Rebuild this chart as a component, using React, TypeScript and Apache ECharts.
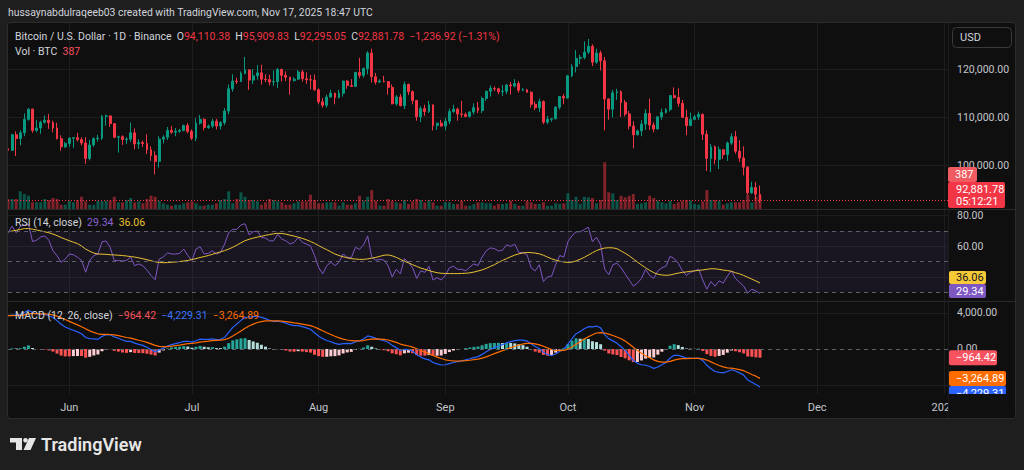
import React, { useEffect, useRef } from "react";
import * as echarts from "echarts";

// ---------------- data (prices in thousands of USD) ----------------
const AXIS_DAYS = 231; // 2025-05-17 .. 2026-01-02

const opensK = [
  103.5,103.2,106.4,105.6,106.8,109.6,111.7,107.3,107.8,109.0,
  109.4,108.9,107.8,105.6,103.9,104.6,105.7,105.8,105.4,104.7,
  101.5,104.3,105.6,105.7,110.2,110.3,108.7,105.9,106.0,105.4,
  105.5,106.8,104.5,104.8,104.6,103.3,102.1,100.9,105.5,105.9,
  107.3,106.9,107.1,107.3,108.3,107.1,105.7,108.8,109.6,107.9,
  108.2,109.2,108.2,108.9,111.3,115.9,117.5,117.4,119.1,119.8,
  117.7,118.6,119.2,117.9,117.8,117.3,117.4,119.9,118.7,118.3,
  117.6,117.9,119.4,118.0,117.8,117.7,115.7,113.2,112.5,114.2,
  115.0,114.1,115.0,117.5,116.6,116.4,119.3,118.7,120.1,123.3,
  118.4,117.3,117.5,117.4,116.2,112.8,114.2,112.4,116.8,115.3,
  113.5,110.1,111.8,111.2,112.6,108.3,108.8,108.2,109.2,111.2,
  111.7,110.7,110.6,110.2,111.1,112.0,111.4,113.9,115.4,116.0,
  115.9,115.3,115.4,116.7,116.5,117.0,115.6,115.7,115.2,112.7,
  112.0,113.3,109.0,109.6,109.7,112.1,114.3,114.0,118.6,120.5,
  122.2,122.4,123.5,124.7,121.4,123.3,121.7,113.8,111.7,115.1,
  115.3,113.1,110.7,108.2,106.4,107.2,108.6,110.8,108.4,107.6,
  110.1,111.0,111.6,114.5,114.1,112.9,110.0,108.3,109.6,110.1,
  110.6,106.5,101.5,103.9,101.3,103.3,102.3,104.7,106.0,103.0,
  101.6,99.7,94.4,95.5,94.11038,
];
const highsK = [
  103.7,106.6,107.1,107.3,110.8,111.9,111.8,109.5,109.3,110.4,
  110.7,109.3,108.9,106.3,104.9,105.9,105.9,106.8,105.9,105.9,
  105.3,105.9,106.4,110.5,110.6,110.4,108.8,106.2,106.3,105.9,
  108.9,107.7,105.5,105.2,106.5,104.0,103.0,106.1,106.3,108.0,
  108.2,107.8,107.6,108.5,108.8,107.5,109.8,110.5,109.8,108.5,
  109.7,109.7,109.2,111.9,116.8,118.9,118.2,119.5,122.5,119.9,
  120.0,120.8,120.9,118.9,118.8,119.7,120.2,120.1,119.5,118.4,
  118.3,119.8,119.8,119.3,118.8,118.9,116.0,114.0,114.7,115.7,
  115.1,115.7,117.6,117.7,117.9,119.4,122.3,120.3,123.7,124.2,
  119.2,117.9,118.6,117.5,116.8,114.6,114.8,117.4,117.0,115.6,
  113.6,112.3,112.6,113.4,112.6,108.9,109.5,109.9,111.8,112.6,
  112.0,113.4,111.0,111.3,112.9,113.2,114.3,115.5,116.6,116.4,
  116.1,116.7,116.9,117.3,117.9,117.5,116.1,115.9,115.4,113.3,
  113.9,113.5,110.3,109.8,112.3,114.4,114.8,118.8,121.0,123.9,
  122.9,125.7,126.2,125.1,124.2,123.8,122.5,113.9,115.7,115.9,
  115.6,113.6,111.3,109.2,107.5,109.4,111.7,113.9,109.0,110.3,
  111.8,111.9,114.6,116.2,116.0,113.6,111.6,111.0,110.5,111.2,
  110.8,107.3,104.5,104.2,104.0,103.4,105.0,106.7,107.2,105.3,
  104.0,99.9,96.7,96.6,95.90983,
];
const lowsK = [
  102.6,103.1,102.0,104.2,106.1,109.3,106.8,106.9,106.6,108.7,
  107.6,106.9,105.4,103.1,103.7,103.9,103.7,105.0,104.2,100.4,
  101.1,103.9,105.0,105.3,108.3,108.0,105.7,102.7,104.3,104.5,
  104.9,103.4,103.5,103.9,102.4,101.0,98.2,99.6,104.6,105.3,
  106.6,106.1,106.8,107.1,106.7,105.3,105.1,108.5,107.3,107.6,
  107.8,107.5,107.5,108.4,110.6,115.3,116.9,117.3,118.9,115.7,
  116.9,117.8,116.8,117.3,116.6,116.5,116.1,117.4,117.5,114.7,
  117.4,117.8,117.4,116.9,115.8,115.5,112.7,112.0,112.0,114.1,
  112.7,113.9,114.3,115.9,116.3,116.4,118.1,118.2,118.9,117.2,
  116.8,117.2,117.2,114.7,112.7,112.4,112.3,111.7,114.6,112.7,
  109.3,109.0,110.3,110.9,107.3,107.4,108.1,107.3,108.6,110.9,
  109.3,110.0,110.0,110.0,110.6,110.9,110.9,113.4,114.3,115.4,
  114.8,114.4,114.8,114.7,116.2,115.1,115.4,115.1,112.0,111.5,
  111.1,108.6,108.6,109.1,109.6,111.6,112.7,113.9,118.3,119.3,
  121.0,122.0,123.1,120.6,121.1,119.7,107.3,109.5,110.0,113.6,
  110.1,110.2,107.5,103.6,106.3,106.1,107.4,107.4,106.9,107.5,
  109.5,110.8,111.2,113.9,112.2,109.9,106.3,108.2,109.4,109.5,
  105.3,98.9,98.7,100.3,99.3,101.4,101.0,104.3,102.5,100.8,
  98.0,94.0,94.2,93.0,92.29505,
];
const closesK = [
  103.2,106.4,105.6,106.8,109.6,111.7,107.3,107.8,109.0,109.4,
  108.9,107.8,105.6,103.9,104.6,105.7,105.8,105.4,104.7,101.5,
  104.3,105.6,105.7,110.2,110.3,108.7,105.9,106.0,105.4,105.5,
  106.8,104.5,104.8,104.6,103.3,102.1,100.9,105.5,105.9,107.3,
  106.9,107.1,107.3,108.3,107.1,105.7,108.8,109.6,107.9,108.2,
  109.2,108.2,108.9,111.3,115.9,117.5,117.4,119.1,119.8,117.7,
  118.6,119.2,117.9,117.8,117.3,117.4,119.9,118.7,118.3,117.6,
  117.9,119.4,118.0,117.8,117.7,115.7,113.2,112.5,114.2,115.0,
  114.1,115.0,117.5,116.6,116.4,119.3,118.7,120.1,123.3,118.4,
  117.3,117.5,117.4,116.2,112.8,114.2,112.4,116.8,115.3,113.5,
  110.1,111.8,111.2,112.6,108.3,108.8,108.2,109.2,111.2,111.7,
  110.7,110.6,110.2,111.1,112.0,111.4,113.9,115.4,116.0,115.9,
  115.3,115.4,116.7,116.5,117.0,115.6,115.7,115.2,112.7,112.0,
  113.3,109.0,109.6,109.7,112.1,114.3,114.0,118.6,120.5,122.2,
  122.4,123.5,124.7,121.4,123.3,121.7,113.8,111.7,115.1,115.3,
  113.1,110.7,108.2,106.4,107.2,108.6,110.8,108.4,107.6,110.1,
  111.0,111.6,114.5,114.1,112.9,110.0,108.3,109.6,110.1,110.6,
  106.5,101.5,103.9,101.3,103.3,102.3,104.7,106.0,103.0,101.6,
  99.7,94.4,95.5,94.1187,92.88178,
];
const volumesBTC = [
  276,276,276,489,414,367,185,185,185,276,
  248,304,276,119,119,229,185,248,339,213,
  119,119,229,213,229,229,339,185,185,248,
  304,185,213,157,276,367,339,229,157,119,
  91,119,119,157,185,213,157,91,91,119,
  119,157,248,276,489,157,276,461,339,248,
  248,213,119,185,276,248,213,185,119,119,
  157,213,213,213,395,248,157,157,185,185,
  185,91,185,119,119,157,367,229,339,524,
  229,91,91,276,229,185,157,248,138,213,
  276,248,185,248,185,91,91,185,185,138,
  138,229,91,91,138,185,185,157,157,91,
  138,138,157,229,138,91,91,229,185,138,
  138,185,91,91,157,138,157,433,248,339,
  138,339,323,304,157,248,1289,461,433,248,
  367,323,367,414,138,157,185,367,304,229,
  185,157,229,138,185,229,248,229,138,119,
  213,524,248,248,229,119,157,185,185,185,
  248,395,185,339,387,
];
const rsiValues = [
  68.9,73.2,68.9,73,73.9,74.5,63.1,64,66.1,66.8,
  64,57.1,53.9,49.6,51.7,55,54.5,52.9,50.8,43.1,
  50.8,54,55,63,63.5,59.4,50.8,50.8,50.4,50.8,
  52.9,47.4,48.5,47.4,44.4,41,38.2,51.7,53,55.8,
  55,55,55.4,58.2,54,50.8,58.2,59.7,55,55.4,
  57.1,55,56.1,61.5,68.9,71.1,71.1,74,74.8,67.5,
  69.6,70,65.8,65.4,63.6,63.6,67.9,64.7,63.6,61.5,
  62.6,65.8,62.6,61.5,60.4,54,46.3,42,47.4,49.6,
  47.4,49.6,55,52.9,52.5,59.4,58,61,66.8,52.9,
  51,51.5,51,47.4,40,45,42,52,49.5,46,
  39,44,43,47,38,39.5,38,41,46,47,
  45,45,44,46.5,48.5,47.5,53,57,59,58.5,
  57,57.5,61,60,61.5,56,56,54.5,46,44,
  48,37,40,40.5,48,54,53,63,67,69.5,
  69.5,71,72.5,63,66,61,45,41.5,48,49,
  46,42,38,34,36,39,45,41,39,44,
  46,47,53.5,52,49,44,41,43,44,45,
  38,32,37,34,37.5,36,40.5,44,39,36.5,
  34,29.5,32,30.8,29.34,
];
const rsiMaValues = [
  69.5,70,70.5,71,71.6,71.6,71.2,70.7,70.1,69.5,
  68.9,68,67,65.8,64.7,63.7,62.7,61.8,60.2,58.2,
  56.8,55.6,55,54.9,54.8,54.5,54.4,54.2,54,53.7,
  53.3,53,52.5,51.9,51.3,50.6,49.9,49.5,49.3,49.4,
  49.6,49.8,50.1,50.4,50.8,51.4,52,52.7,53.3,54,
  54.8,55.6,56.4,57.2,58.2,59.4,60.8,62.3,63.7,64.6,
  65.4,66,66.6,67.2,67.7,68.2,68.5,68.4,68,67.3,
  66.7,66,65.2,64.3,63.2,62,60.5,59.1,57.8,56.4,
  55,54,53.2,52.5,52,51.7,51.5,51.5,51.8,52.3,
  52.8,53.5,54.2,54.4,53.8,52.8,51.5,50.3,49.2,48,
  46.9,45.8,45,44.2,43.4,42.8,42.4,42.3,42.2,42.2,
  42.2,42.3,42.4,42.7,43.2,43.9,44.6,45.6,46.8,48,
  49.5,50.8,52,53.2,54.3,55.1,55.7,56,55.9,55.6,
  55.1,54.2,53,51.9,51,50.3,49.8,49.5,49.7,50.5,
  51.6,52.8,54.3,55.8,57.2,58.2,58.9,59.1,59,58.5,
  57,55.5,53.8,51.8,49.8,47.8,46,44.3,42.8,41.8,
  41.3,41.1,41.3,41.9,42.5,43,43.3,43.7,44,44.3,
  44.6,45,45.4,45.3,45,44.5,44.2,43.7,42.8,42,
  41,39.8,38.6,37.4,36.06,
];
const macdValues = [
  3700,3780,3780,3830,4050,4300,4050,3900,3880,3850,
  3700,3500,3150,2750,2450,2250,2080,1900,1700,1280,
  1150,1120,1080,1380,1600,1580,1350,1200,1000,850,
  850,650,520,400,200,-50,-320,-100,100,330,
  480,600,700,850,860,760,920,1100,1080,1060,
  1120,1050,1080,1300,1850,2400,2780,3180,3500,3550,
  3600,3640,3520,3380,3200,3050,3100,3000,2880,2700,
  2600,2600,2480,2350,2200,1800,1450,1150,950,800,
  620,520,600,620,600,800,920,1100,1450,1350,
  1180,1050,920,750,400,150,-150,-50,-80,-250,
  -650,-900,-1100,-1200,-1500,-1650,-1780,-1750,-1620,-1500,
  -1400,-1320,-1200,-1080,-950,-850,-600,-300,-50,150,
  330,480,680,820,930,990,990,880,580,270,
  50,-350,-620,-720,-560,-250,-50,550,1150,1700,
  1950,2250,2480,2450,2550,2350,1600,1150,900,650,
  250,-150,-700,-1250,-1600,-1750,-1800,-1950,-2150,-2000,
  -1750,-1500,-1000,-700,-700,-850,-1000,-1020,-1030,-1000,
  -1300,-1800,-2200,-2500,-2600,-2650,-2500,-2300,-2450,-2650,
  -2900,-3450,-3700,-3950,-4229.31,
];
const signalValues = [
  3700,3710,3720,3740,3800,3900,3930,3920,3910,3900,
  3860,3790,3660,3480,3270,3070,2870,2680,2480,2240,
  2020,1840,1690,1630,1620,1610,1560,1490,1390,1280,
  1200,1090,970,860,730,570,400,300,260,270,
  310,370,440,520,590,620,680,760,830,870,
  920,950,980,1040,1200,1440,1710,2000,2300,2550,
  2760,2940,3050,3120,3140,3120,3120,3090,3050,2980,
  2900,2840,2770,2690,2600,2440,2240,2020,1810,1610,
  1410,1230,1100,1000,920,900,900,940,1040,1100,
  1120,1100,1060,1000,880,730,550,430,330,210,
  30,-160,-350,-520,-720,-900,-1060,-1200,-1280,-1330,
  -1340,-1330,-1300,-1250,-1190,-1120,-1010,-870,-700,-520,
  -350,-180,-10,160,310,450,560,630,630,560,
  460,300,120,-50,-160,-180,-150,-10,220,520,
  810,1100,1370,1590,1780,1820,1780,1650,1500,1330,
  1140,880,560,200,-160,-480,-740,-980,-1210,-1370,
  -1450,-1460,-1370,-1240,-1130,-1080,-1060,-1050,-1050,-1040,
  -1090,-1230,-1430,-1640,-1830,-1990,-2090,-2130,-2200,-2290,
  -2410,-2620,-2840,-3020,-3264.89,
];
const histValues = [
  0,70,60,90,250,400,120,-20,-30,-50,
  -160,-290,-510,-730,-820,-820,-790,-780,-780,-960,
  -870,-720,-610,-250,-20,-30,-210,-290,-390,-430,
  -350,-440,-450,-460,-530,-620,-720,-400,-160,60,
  170,230,260,330,270,140,240,340,250,190,
  200,100,100,260,650,960,1070,1180,1200,1000,
  840,700,470,260,60,-70,-20,-90,-170,-280,
  -300,-240,-290,-340,-400,-640,-790,-870,-860,-810,
  -790,-710,-500,-380,-320,-100,20,160,410,250,
  60,-50,-140,-250,-480,-580,-700,-480,-410,-460,
  -680,-740,-750,-680,-780,-750,-720,-550,-340,-170,
  -60,10,100,170,240,270,410,570,650,670,
  680,660,690,660,620,540,430,250,-50,-290,
  -410,-650,-740,-670,-400,-70,100,560,930,1180,
  1140,1150,1110,860,770,530,-180,-500,-600,-680,
  -890,-1030,-1260,-1450,-1440,-1270,-1060,-970,-940,-630,
  -300,-40,370,540,430,230,60,30,20,40,
  -210,-570,-770,-860,-770,-660,-410,-170,-250,-360,
  -490,-830,-860,-930,-964.42,
];

const priceTicks = [100000, 110000, 120000];
const rsiLabelTicks = [80, 60];
const rsiGridTicks = [80, 60, 40];
const rsiLevels = [70, 50, 30];
const macdLabelTicks = [4000, 0];
const macdGridTicks = [4000, -4000];
const MONTHS = ["Jan","Feb","Mar","Apr","May","Jun","Jul","Aug","Sep","Oct","Nov","Dec"];
const HEADER = "hussaynabdulraqeeb03 created with TradingView.com, Nov 17, 2025 18:47 UTC";
const SYMBOL = "Bitcoin / U.S. Dollar \u00b7 1D \u00b7 Binance";
const COUNTDOWN = "05:12:21";

// ---------------- styling ----------------
const FONT = "Roboto, 'Noto Sans', sans-serif";
const OUTER_BG = "#1e1e1e";
const PANEL_BG = "#0f0f0f";
const GRID_COLOR = "#1e1e1e";
const SEP_COLOR = "#2a2a2a";
const AXIS_TEXT = "#c4c6cc";
const LEGEND_TEXT = "#d1d4dc";
const UP = "#089981";
const DOWN = "#f23645";
const LEGEND_SIZE = 10.5;

const dates: string[] = [];
for (let i = 0; i < AXIS_DAYS; i++) {
  dates.push(new Date(Date.UTC(2025, 4, 17 + i)).toISOString().slice(0, 10));
}
const isMonthStart = (v: string) => v.slice(8, 10) === "01";
const monthLabel = (v: string) => (v.slice(5, 7) === "01" ? v.slice(0, 4) : MONTHS[Number(v.slice(5, 7)) - 1]);
const fmt = (v: number) =>
  (v < 0 ? "\u2212" : "") +
  Math.abs(v).toLocaleString("en-US", { minimumFractionDigits: 2, maximumFractionDigits: 2 });

const N = closesK.length;
const k = (v: number) => Math.round(v * 100000) / 100;
const last = N - 1;
const lastO = k(opensK[last]);
const lastH = k(highsK[last]);
const lastL = k(lowsK[last]);
const lastC = k(closesK[last]);
const prevC = k(closesK[last - 1]);

function buildOption(): any {
  const grids = [
    { left: 8, right: 76, top: 23, height: 186 },
    { left: 8, right: 76, top: 209, height: 92 },
    { left: 8, right: 76, top: 301, height: 93 },
  ];
  const candles = opensK.map((o, i) => [k(o), k(closesK[i]), k(lowsK[i]), k(highsK[i])]);
  const vols = volumesBTC.map((v, i) => ({
    value: v,
    itemStyle: { color: closesK[i] >= opensK[i] ? "rgba(8,153,129,0.5)" : "rgba(242,54,69,0.5)" },
  }));
  const hist = histValues.map((h, i) => {
    const p = i > 0 ? histValues[i - 1] : 0;
    const c = h >= 0 ? (h > p ? "#26a69a" : "#b2dfdb") : h > p ? "#ffcdd2" : "#ff5252";
    return { value: h, itemStyle: { color: c } };
  });
  const yAxisBase = (gridIndex: number, min: number, max: number, labels: number[], lines: number[]) => ({
    type: "value",
    gridIndex,
    position: "right",
    min,
    max,
    axisLine: { show: false },
    axisTick: { show: false, customValues: lines },
    axisLabel: {
      customValues: labels,
      formatter: (v: number) => fmt(v),
      color: AXIS_TEXT,
      fontSize: 10.5,
      fontFamily: FONT,
      margin: 9,
    },
    splitLine: { show: true, lineStyle: { color: GRID_COLOR, width: 1 } },
  });
  const dashed = (vals: number[]) => ({
    silent: true,
    symbol: ["none", "none"],
    label: { show: false },
    lineStyle: { color: "#5d606b", type: [4, 4], width: 1 },
    data: vals.map((v) => ({ yAxis: v })),
  });
  return {
    animation: false,
    backgroundColor: PANEL_BG,
    grid: grids,
    xAxis: grids.map((_, i) => ({
      type: "category",
      gridIndex: i,
      data: dates,
      boundaryGap: false,
      axisLine: { show: false },
      axisTick: { show: false },
      axisLabel:
        i === 2
          ? {
              show: true,
              interval: (_i: number, v: string) => isMonthStart(v),
              formatter: (v: string) => monthLabel(v),
              color: AXIS_TEXT,
              fontSize: 11,
              fontFamily: FONT,
              margin: 8,
            }
          : { show: false },
      splitLine: {
        show: true,
        interval: (_i: number, v: string) => isMonthStart(v),
        lineStyle: { color: GRID_COLOR, width: 1 },
      },
    })),
    yAxis: [
      yAxisBase(0, 91045, 129514, priceTicks, priceTicks),
      { type: "value", gridIndex: 0, min: 0, max: 5142, show: false, splitLine: { show: false } },
      yAxisBase(1, 24.3, 84.4, rsiLabelTicks, rsiGridTicks),
      yAxisBase(2, -5000, 5333, macdLabelTicks, macdGridTicks),
    ],
    series: [
      {
        type: "bar",
        xAxisIndex: 0,
        yAxisIndex: 1,
        data: vols,
        barWidth: 3,
        silent: true,
        z: 1,
      },
      {
        type: "candlestick",
        xAxisIndex: 0,
        yAxisIndex: 0,
        data: candles,
        barWidth: 2.4,
        silent: true,
        z: 3,
        itemStyle: { color: UP, color0: DOWN, borderColor: UP, borderColor0: DOWN, borderWidth: 1 },
        markLine: {
          silent: true,
          symbol: ["none", "none"],
          label: { show: false },
          lineStyle: { color: DOWN, type: [1, 2], width: 1 },
          data: [{ yAxis: lastC }],
        },
      },
      {
        type: "line",
        xAxisIndex: 1,
        yAxisIndex: 2,
        data: rsiValues,
        symbol: "none",
        silent: true,
        lineStyle: { color: "#7e57c2", width: 1 },
        markArea: {
          silent: true,
          itemStyle: { color: "rgba(126,87,194,0.1)" },
          data: [[{ yAxis: 70 }, { yAxis: 30 }]],
        },
        markLine: dashed(rsiLevels),
      },
      {
        type: "line",
        xAxisIndex: 1,
        yAxisIndex: 2,
        data: rsiMaValues,
        symbol: "none",
        silent: true,
        lineStyle: { color: "#e9c232", width: 1 },
      },
      {
        type: "bar",
        xAxisIndex: 2,
        yAxisIndex: 3,
        data: hist,
        barWidth: 3,
        silent: true,
        markLine: dashed([0]),
      },
      {
        type: "line",
        xAxisIndex: 2,
        yAxisIndex: 3,
        data: macdValues,
        symbol: "none",
        silent: true,
        lineStyle: { color: "#2962ff", width: 1.2 },
      },
      {
        type: "line",
        xAxisIndex: 2,
        yAxisIndex: 3,
        data: signalValues,
        symbol: "none",
        silent: true,
        lineStyle: { color: "#ff6d00", width: 1.2 },
      },
    ],
  };
}

function buildGraphics(chart: any): any[] {
  const py = (axis: number, v: number) => chart.convertToPixel({ yAxisIndex: axis }, v) as number;
  const g: any[] = [];
  const rect = (x: number, y: number, w: number, h: number, fill: string, z = 100, r = 0) =>
    g.push({ type: "rect", z, silent: true, shape: { x, y, width: w, height: h, r }, style: { fill } });
  const line = (x1: number, y1: number, x2: number, y2: number, stroke: string) =>
    g.push({ type: "line", z: 100, silent: true, shape: { x1, y1, x2, y2 }, style: { stroke, lineWidth: 1 } });
  const text = (x: number, y: number, str: string, fill: string, size = 11, z = 101, weight = "normal") =>
    g.push({
      type: "text",
      z,
      silent: true,
      x,
      y,
      style: {
        text: str,
        fill,
        fontSize: size,
        fontFamily: FONT,
        fontWeight: weight,
        textAlign: "left",
        textVerticalAlign: "middle",
        align: "left",
        verticalAlign: "middle",
      },
    });
  const rich = (x: number, y: number, str: string, styles: Record<string, string>) => {
    const r: any = {};
    Object.keys(styles).forEach((key) => {
      r[key] = { fill: styles[key], color: styles[key], fontSize: LEGEND_SIZE, fontFamily: FONT };
    });
    g.push({
      type: "text",
      z: 101,
      silent: true,
      x,
      y,
      style: {
        text: str,
        rich: r,
        fontSize: LEGEND_SIZE,
        fontFamily: FONT,
        textAlign: "left",
        textVerticalAlign: "middle",
        align: "left",
        verticalAlign: "middle",
      },
    });
  };

  // outer frame
  rect(0, 0, 1024, 23, OUTER_BG);
  rect(0, 0, 8, 470, OUTER_BG);
  rect(1015, 0, 9, 470, OUTER_BG);
  rect(0, 418, 1024, 52, OUTER_BG);
  g.push({
    type: "rect",
    z: 100,
    silent: true,
    shape: { x: 7.5, y: 22.5, width: 1008, height: 396, r: 3 },
    style: { fill: "none", stroke: "#2c2c2c", lineWidth: 1 },
  });
  line(8, 209.5, 1015, 209.5, SEP_COLOR);
  line(8, 301.5, 1015, 301.5, SEP_COLOR);
  line(948.5, 23, 948.5, 418, "#1c1c1c");

  // header + legends
  text(8, 12, HEADER, LEGEND_TEXT, 10.4);
  const chg = lastC - prevC;
  const pct = (chg / prevC) * 100;
  rich(
    15,
    36,
    `{t|${SYMBOL}}  {t|O}{v|${fmt(lastO)}}  {t|H}{v|${fmt(lastH)}}  {t|L}{v|${fmt(lastL)}}  {t|C}{v|${fmt(lastC)}}  {v|${fmt(chg)} (${fmt(pct)}%)}`,
    { t: LEGEND_TEXT, v: DOWN }
  );
  const lastVol = volumesBTC[last];
  rich(15, 51, `{t|Vol \u00b7 BTC}  {v|${lastVol}}`, { t: LEGEND_TEXT, v: "#f7525f" });
  const lastRsi = rsiValues[last];
  const lastMa = rsiMaValues[last];
  rich(15, 222, `{t|RSI (14, close)}  {p|${fmt(lastRsi)}}  {y|${fmt(lastMa)}}`, {
    t: LEGEND_TEXT,
    p: "#8a63d2",
    y: "#e9c232",
  });
  const lastM = macdValues[last];
  const lastS = signalValues[last];
  const lastHst = histValues[last];
  rich(15, 315, `{t|MACD (12, 26, close)}  {r|${fmt(lastHst)}}  {b|${fmt(lastM)}}  {o|${fmt(lastS)}}`, {
    t: LEGEND_TEXT,
    r: "#f7525f",
    b: "#3b73ff",
    o: "#ff6d00",
  });

  // USD box
  g.push({
    type: "rect",
    z: 100,
    silent: true,
    shape: { x: 952.5, y: 27.5, width: 59, height: 20, r: 4 },
    style: { fill: "none", stroke: "#3a3a3a", lineWidth: 1 },
  });
  text(960, 37.5, "USD", LEGEND_TEXT, 11);

  // price + volume labels
  const yPrice = py(0, lastC);
  const priceTop = Math.min(yPrice - 7, 208 - 26);
  rect(948, priceTop, 57, 26, DOWN, 102, 2);
  text(956, priceTop + 7, fmt(lastC), "#ffffff", 11, 103);
  text(956, priceTop + 19.5, COUNTDOWN, "#ffffff", 11, 103);
  rect(948, priceTop - 15, 29, 15, "#ef5b60", 102, 2);
  text(955, priceTop - 7.5, String(lastVol), "#ffffff", 11, 103);

  // RSI labels
  const yR = py(2, lastRsi);
  const rTop = Math.min(yR - 7, 301 - 14 - 3);
  rect(949, rTop, 37, 14, "#7e57c2", 102, 2);
  text(956, rTop + 7, fmt(lastRsi), "#ffffff", 11, 103);
  const yM = py(2, lastMa);
  const mTop = Math.min(yM - 7, rTop - 13);
  rect(949, mTop, 37, 13, "#f7c936", 102, 2);
  text(956, mTop + 6.5, fmt(lastMa), "#131722", 11, 103);

  // MACD labels
  const yH = py(3, lastHst);
  rect(949, yH - 7.5, 48, 15, "#f7525f", 102, 2);
  text(956, yH, fmt(lastHst), "#ffffff", 11, 103);
  const yS = py(3, lastS);
  rect(949, yS - 7.5, 57, 15, "#ff6d00", 102, 2);
  text(956, yS, fmt(lastS), "#ffffff", 11, 103);
  const yMm = Math.max(py(3, lastM), yS + 15);
  rect(949, yMm - 7.5, 57, 15, "#2962ff", 102, 2);
  text(956, yMm, fmt(lastM), "#ffffff", 11, 103);
  rect(949, 394, 65.5, 23.5, PANEL_BG, 104);

  // TradingView logo
  const LOGO = "#e6e6e6";
  rect(10, 438, 12, 4.5, LOGO, 101);
  rect(16, 438, 6, 12, LOGO, 101);
  g.push({ type: "circle", z: 101, silent: true, shape: { cx: 25.5, cy: 440.3, r: 2.3 }, style: { fill: LOGO } });
  g.push({
    type: "polygon",
    z: 101,
    silent: true,
    shape: { points: [[29, 438], [36, 438], [30.5, 450], [23.5, 450]] },
    style: { fill: LOGO },
  });
  text(41, 444, "TradingView", LOGO, 18, 101, "600");
  return g;
}

export default function App() {
  const ref = useRef<HTMLDivElement>(null);
  useEffect(() => {
    const el = ref.current;
    if (!el) return;
    const chart = echarts.init(el, undefined, { renderer: "svg", width: 1024, height: 470 });
    chart.setOption(buildOption());
    chart.setOption({ graphic: buildGraphics(chart) });
    return () => chart.dispose();
  }, []);
  return <div ref={ref} style={{ position: "fixed", left: 0, top: 0, width: 1024, height: 470 }} />;
}
